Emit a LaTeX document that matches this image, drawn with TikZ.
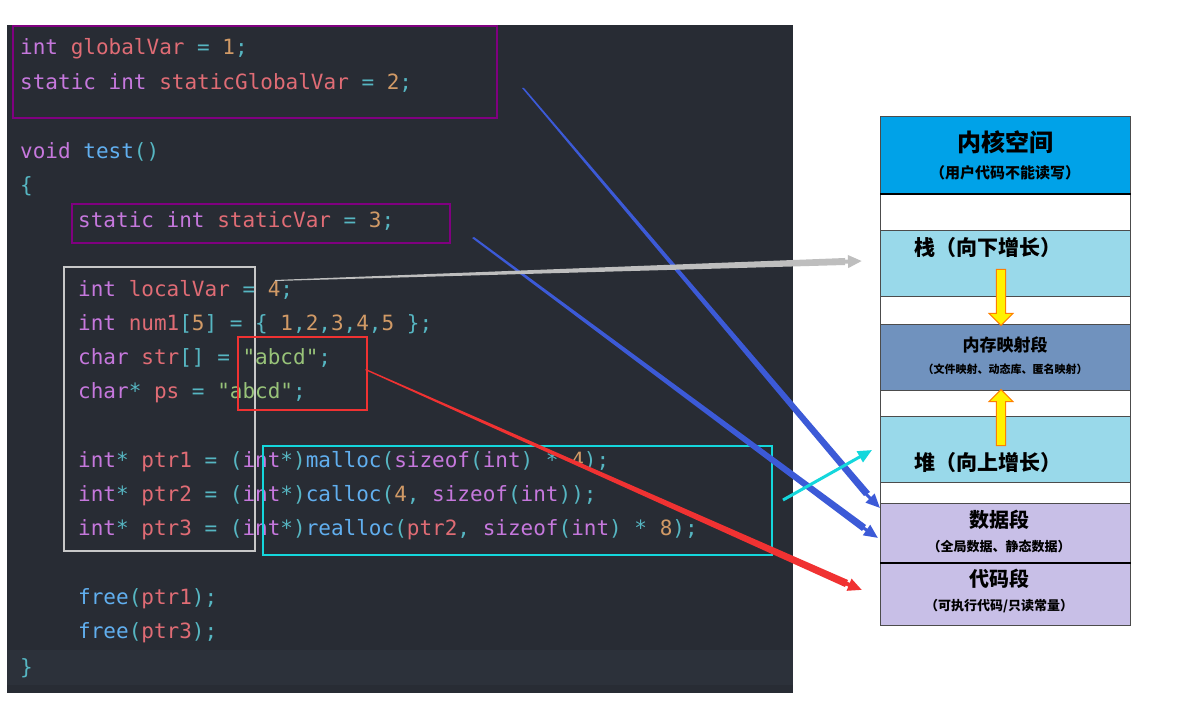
\documentclass[tikz,border=0pt]{standalone}
\usepackage{fontspec}
\setmonofont{DejaVu Sans Mono}
\newfontfamily\cjk{Noto Sans CJK SC}
\usetikzlibrary{arrows.meta,shapes.arrows}
\definecolor{bg}{HTML}{282C34}
\definecolor{bg2}{HTML}{2C313A}
\definecolor{kw}{HTML}{C678DD}
\definecolor{id}{HTML}{E06C75}
\definecolor{nm}{HTML}{D19A66}
\definecolor{pu}{HTML}{56B6C2}
\definecolor{fn}{HTML}{61AFEF}
\definecolor{st}{HTML}{98C379}
\definecolor{kern}{HTML}{00A2E8}
\definecolor{stk}{HTML}{99D9EA}
\definecolor{mmap}{HTML}{7092BE}
\definecolor{segc}{HTML}{C8BFE7}
\definecolor{bl}{HTML}{3C5AD7}
\definecolor{gr}{HTML}{BEBEBE}
\definecolor{rd}{HTML}{F03232}
\definecolor{cy}{HTML}{14D7DC}
\definecolor{pp}{HTML}{800080}
\newcommand{\cK}[1]{\textcolor{kw}{#1}}
\newcommand{\cI}[1]{\textcolor{id}{#1}}
\newcommand{\cN}[1]{\textcolor{nm}{#1}}
\newcommand{\cP}[1]{\textcolor{pu}{#1}}
\newcommand{\cF}[1]{\textcolor{fn}{#1}}
\newcommand{\cS}[1]{\textcolor{st}{#1}}
\begin{document}
\begin{tikzpicture}[x=1pt,y=-1pt,
  code/.style={anchor=west,inner sep=0pt,font=\fontsize{21}{21}\ttfamily},
  seg/.style={draw=black!70,line width=0.8pt,minimum width=250pt,inner sep=0pt,anchor=north west},
  cj/.style={font=\cjk\bfseries\fontsize{#1}{#1}\selectfont,inner sep=0pt},
  arr/.style={line width=4pt,-{Triangle[length=14pt,width=12pt]}},
  yarr/.style={single arrow,draw=orange,fill=yellow,line width=1pt,minimum width=24pt,single arrow head extend=4pt,minimum height=56pt,inner sep=2pt}]
\useasboundingbox (0,0) rectangle (1186,711);
\fill[white] (0,0) rectangle (1186,711);
\fill[bg] (7,25) rectangle (793,693);
\fill[bg2] (7,650) rectangle (793,685);
% code
\node[code] (l1) at (20,49) {\cK{int} \cI{globalVar} \cP{=} \cN{1}\cP{;}};
\node[code] (l2) at (20,83) {\cK{static} \cK{int} \cI{staticGlobalVar} \cP{=} \cN{2}\cP{;}};
\node[code] (l3) at (20,152) {\cK{void} \cF{test}\cP{()}};
\node[code] (l4) at (20,186) {\cP{\{}};
\node[code] (l5) at (78,221) {\cK{static} \cK{int} \cI{staticVar} \cP{=} \cN{3}\cP{;}};
\node[code] (l6) at (78,290) {\cK{int} \cI{localVar} \cP{=} \cN{4}\cP{;}};
\node[code] (l7) at (78,324) {\cK{int} \cI{num1}\cP{[}\cN{5}\cP{]} \cP{=} \cP{\{} \cN{1}\cP{,}\cN{2}\cP{,}\cN{3}\cP{,}\cN{4}\cP{,}\cN{5} \cP{\};}};
\node[code] (l8) at (78,358) {\cK{char} \cI{str}\cP{[]} \cP{=} \cS{"abcd"}\cP{;}};
\node[code] (l9) at (78,393) {\cK{char}\cP{*} \cI{ps} \cP{=} \cS{"abcd"}\cP{;}};
\node[code] (l10) at (78,462) {\cK{int}\cP{*} \cI{ptr1} \cP{=} \cP{(}\cK{int}\cP{*)}\cF{malloc}\cP{(}\cK{sizeof}\cP{(}\cK{int}\cP{)} \cP{*} \cN{4}\cP{);}};
\node[code] (l11) at (78,496) {\cK{int}\cP{*} \cI{ptr2} \cP{=} \cP{(}\cK{int}\cP{*)}\cF{calloc}\cP{(}\cN{4}\cP{,} \cK{sizeof}\cP{(}\cK{int}\cP{));}};
\node[code] (l12) at (78,530) {\cK{int}\cP{*} \cI{ptr3} \cP{=} \cP{(}\cK{int}\cP{*)}\cF{realloc}\cP{(}\cI{ptr2}\cP{,} \cK{sizeof}\cP{(}\cK{int}\cP{)} \cP{*} \cN{8}\cP{);}};
\node[code] (l13) at (78,599) {\cF{free}\cP{(}\cI{ptr1}\cP{);}};
\node[code] (l14) at (78,633) {\cF{free}\cP{(}\cI{ptr3}\cP{);}};
\node[code] (l15) at (20,668) {\cP{\}}};
% boxes
\draw[pp,line width=2pt] (13,26) rectangle (497,118);
\draw[pp,line width=2pt] (72,204) rectangle (450,243);
\draw[color=gr!85!white,line width=2pt] (64,267) rectangle (255,551);
\draw[rd,line width=2pt] (238,337) rectangle (367,410);
\draw[cy,line width=2pt] (263,446) rectangle (772,555);
% memory
\node[seg,fill=kern,minimum height=78pt] (kern) at (880,116) {};
\node[seg,fill=white,minimum height=36pt] (g1) at (880,194) {};
\node[seg,fill=stk,minimum height=66pt] (stack) at (880,230) {};
\node[seg,fill=white,minimum height=28pt] (g2) at (880,296) {};
\node[seg,fill=mmap,minimum height=66pt] (mmap) at (880,324) {};
\node[seg,fill=white,minimum height=26pt] (g3) at (880,390) {};
\node[seg,fill=stk,minimum height=66pt] (heap) at (880,416) {};
\node[seg,fill=white,minimum height=21pt] (g4) at (880,482) {};
\node[seg,fill=segc,minimum height=60pt] (data) at (880,503) {};
\node[seg,fill=segc,minimum height=62pt] (codeseg) at (880,563) {};
\draw[line width=2pt] (880,194) -- (1131,194);
\draw[line width=2pt] (880,563) -- (1131,563);
\node[cj=24] at (1005,142) {内核空间};
\node[cj=15] at (1005,173) {（用户代码不能读写）};
\node[cj=21,anchor=west] at (914,248) {栈（向下增长）};
\node[cj=17] at (1005,345) {内存映射段};
\node[cj=11] at (1005,369) {（文件映射、动态库、匿名映射）};
\node[cj=21,anchor=west] at (914,463) {堆（向上增长）};
\node[cj=20] at (999,520) {数据段};
\node[cj=13] at (999,547) {（全局数据、静态数据）};
\node[cj=20] at (999,579) {代码段};
\node[cj=13] at (999,606) {（可执行代码/只读常量）};
\node[yarr,shape border rotate=270] (ya1) at (1001,295) {};
\node[yarr,shape border rotate=90] (ya2) at (1001,420) {};
% connectors
\coordinate (e1) at (880,508);
\coordinate (e2) at (878,538);
\coordinate (e3) at (862,261);
\coordinate (e4) at (862,590);
\coordinate (s5) at (783,500); \coordinate (e5) at (872,450);
\fill[bl] (522,88) -- (524,88) -- (870,492) -- (864,496) -- cycle;
\draw[arr,bl,line width=3pt] (860,488) -- (e1);
\fill[bl] (472,238) -- (474,237) -- (866,525) -- (862,531) -- cycle;
\draw[arr,bl,line width=3pt] (855,522) -- (e2);
\fill[gr] (275,281) -- (275,280) -- (845,258) -- (845,265) -- cycle;
\draw[arr,gr,line width=4pt] (835,262) -- (e3);
\fill[rd] (365,370) -- (366,369) -- (848,580) -- (845,587) -- cycle;
\draw[arr,rd,line width=4pt] (835,579) -- (e4);
\draw[arr,cy,line width=3pt] (s5) -- (e5);
\end{tikzpicture}
\end{document}
